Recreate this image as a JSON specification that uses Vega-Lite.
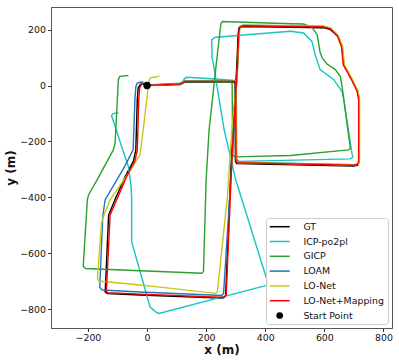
{
  "$schema": "https://vega.github.io/schema/vega-lite/v6.json",
  "width": 341,
  "height": 321,
  "autosize": {"type": "none"},
  "padding": {"left": 51, "top": 7, "right": 7, "bottom": 35},
  "config": {
    "view": {"stroke": "#555", "strokeWidth": 1},
    "font": "DejaVu Sans",
    "axis": {"grid": false, "domainColor": "#555", "tickColor": "#333", "tickSize": 3.5, "labelFontSize": 9.4, "labelColor": "#111", "titleFontSize": 12, "titleFontWeight": "bold", "titleColor": "#111", "labelFont": "DejaVu Sans", "titleFont": "DejaVu Sans"}
  },
  "datasets": {
    "traj": [
      {"s":"GT","x":0,"y":0},{"s":"GT","x":112,"y":4},{"s":"GT","x":129,"y":13},{"s":"GT","x":295,"y":13},{"s":"GT","x":298,"y":6},{"s":"GT","x":299,"y":-270},{"s":"GT","x":303,"y":-279},{"s":"GT","x":700,"y":-288},{"s":"GT","x":713,"y":-285},{"s":"GT","x":718,"y":-272},{"s":"GT","x":718,"y":-51},{"s":"GT","x":713,"y":-21},{"s":"GT","x":694,"y":21},{"s":"GT","x":666,"y":74},{"s":"GT","x":660,"y":140},{"s":"GT","x":646,"y":176},{"s":"GT","x":621,"y":200},{"s":"GT","x":597,"y":207},{"s":"GT","x":325,"y":211},{"s":"GT","x":311,"y":207},{"s":"GT","x":308,"y":182},{"s":"GT","x":304,"y":74},{"s":"GT","x":293,"y":-123},{"s":"GT","x":285,"y":-266},{"s":"GT","x":266,"y":-752},{"s":"GT","x":259,"y":-759},{"s":"GT","x":247,"y":-760},{"s":"GT","x":-24,"y":-749},{"s":"GT","x":-134,"y":-744},{"s":"GT","x":-142,"y":-738},{"s":"GT","x":-141,"y":-725},{"s":"GT","x":-130,"y":-463},{"s":"GT","x":-109,"y":-409},{"s":"GT","x":-74,"y":-325},{"s":"GT","x":-46,"y":-270},{"s":"GT","x":-38,"y":-230},{"s":"GT","x":-33,"y":-51},{"s":"GT","x":-30,"y":-8},{"s":"GT","x":-22,"y":5},{"s":"GT","x":0,"y":6},

      {"s":"ICP-po2pl","x":0,"y":0},{"s":"ICP-po2pl","x":119,"y":9},{"s":"ICP-po2pl","x":125,"y":22},{"s":"ICP-po2pl","x":132,"y":30},{"s":"ICP-po2pl","x":180,"y":27},{"s":"ICP-po2pl","x":295,"y":18},{"s":"ICP-po2pl","x":302,"y":10},{"s":"ICP-po2pl","x":302,"y":-262},{"s":"ICP-po2pl","x":310,"y":-271},{"s":"ICP-po2pl","x":688,"y":-262},{"s":"ICP-po2pl","x":697,"y":-255},{"s":"ICP-po2pl","x":694,"y":-246},{"s":"ICP-po2pl","x":666,"y":-51},{"s":"ICP-po2pl","x":660,"y":-22},{"s":"ICP-po2pl","x":632,"y":21},{"s":"ICP-po2pl","x":586,"y":57},{"s":"ICP-po2pl","x":569,"y":110},{"s":"ICP-po2pl","x":558,"y":158},{"s":"ICP-po2pl","x":530,"y":188},{"s":"ICP-po2pl","x":485,"y":194},{"s":"ICP-po2pl","x":231,"y":173},{"s":"ICP-po2pl","x":219,"y":164},{"s":"ICP-po2pl","x":220,"y":100},{"s":"ICP-po2pl","x":224,"y":80},{"s":"ICP-po2pl","x":261,"y":-158},{"s":"ICP-po2pl","x":300,"y":-337},{"s":"ICP-po2pl","x":409,"y":-705},{"s":"ICP-po2pl","x":407,"y":-713},{"s":"ICP-po2pl","x":395,"y":-717},{"s":"ICP-po2pl","x":40,"y":-815},{"s":"ICP-po2pl","x":30,"y":-810},{"s":"ICP-po2pl","x":10,"y":-791},{"s":"ICP-po2pl","x":-52,"y":-558},{"s":"ICP-po2pl","x":-52,"y":-409},{"s":"ICP-po2pl","x":-54,"y":-361},{"s":"ICP-po2pl","x":-63,"y":-290},{"s":"ICP-po2pl","x":-86,"y":-218},{"s":"ICP-po2pl","x":-108,"y":-146},{"s":"ICP-po2pl","x":-120,"y":-108},{"s":"ICP-po2pl","x":-115,"y":-100},{"s":"ICP-po2pl","x":-97,"y":-97},

      {"s":"GICP","x":0,"y":0},{"s":"GICP","x":112,"y":6},{"s":"GICP","x":129,"y":15},{"s":"GICP","x":284,"y":13},{"s":"GICP","x":288,"y":6},{"s":"GICP","x":290,"y":-248},{"s":"GICP","x":296,"y":-255},{"s":"GICP","x":485,"y":-250},{"s":"GICP","x":682,"y":-230},{"s":"GICP","x":688,"y":-224},{"s":"GICP","x":666,"y":-51},{"s":"GICP","x":660,"y":-3},{"s":"GICP","x":654,"y":33},{"s":"GICP","x":637,"y":57},{"s":"GICP","x":609,"y":77},{"s":"GICP","x":593,"y":98},{"s":"GICP","x":585,"y":122},{"s":"GICP","x":576,"y":182},{"s":"GICP","x":558,"y":208},{"s":"GICP","x":530,"y":220},{"s":"GICP","x":485,"y":221},{"s":"GICP","x":281,"y":228},{"s":"GICP","x":255,"y":229},{"s":"GICP","x":250,"y":222},{"s":"GICP","x":234,"y":74},{"s":"GICP","x":210,"y":-158},{"s":"GICP","x":200,"y":-337},{"s":"GICP","x":191,"y":-665},{"s":"GICP","x":185,"y":-671},{"s":"GICP","x":-208,"y":-654},{"s":"GICP","x":-216,"y":-646},{"s":"GICP","x":-202,"y":-409},{"s":"GICP","x":-198,"y":-391},{"s":"GICP","x":-169,"y":-337},{"s":"GICP","x":-114,"y":-230},{"s":"GICP","x":-108,"y":-206},{"s":"GICP","x":-97,"y":21},{"s":"GICP","x":-92,"y":33},{"s":"GICP","x":-63,"y":36},

      {"s":"LOAM","x":0,"y":2},{"s":"LOAM","x":112,"y":8},{"s":"LOAM","x":129,"y":17},{"s":"LOAM","x":299,"y":17},{"s":"LOAM","x":302,"y":10},{"s":"LOAM","x":303,"y":-266},{"s":"LOAM","x":307,"y":-274},{"s":"LOAM","x":701,"y":-283},{"s":"LOAM","x":714,"y":-280},{"s":"LOAM","x":718,"y":-268},{"s":"LOAM","x":718,"y":-51},{"s":"LOAM","x":713,"y":-21},{"s":"LOAM","x":694,"y":21},{"s":"LOAM","x":666,"y":74},{"s":"LOAM","x":660,"y":140},{"s":"LOAM","x":646,"y":179},{"s":"LOAM","x":621,"y":205},{"s":"LOAM","x":597,"y":212},{"s":"LOAM","x":325,"y":216},{"s":"LOAM","x":314,"y":211},{"s":"LOAM","x":311,"y":182},{"s":"LOAM","x":307,"y":74},{"s":"LOAM","x":296,"y":-123},{"s":"LOAM","x":287,"y":-276},{"s":"LOAM","x":259,"y":-744},{"s":"LOAM","x":252,"y":-751},{"s":"LOAM","x":-24,"y":-738},{"s":"LOAM","x":-152,"y":-731},{"s":"LOAM","x":-160,"y":-722},{"s":"LOAM","x":-150,"y":-469},{"s":"LOAM","x":-142,"y":-409},{"s":"LOAM","x":-75,"y":-288},{"s":"LOAM","x":-47,"y":-230},{"s":"LOAM","x":-41,"y":-51},{"s":"LOAM","x":-38,"y":-5},{"s":"LOAM","x":-33,"y":9},{"s":"LOAM","x":-24,"y":12},{"s":"LOAM","x":-12,"y":12},

      {"s":"LO-Net","x":0,"y":0},{"s":"LO-Net","x":112,"y":7},{"s":"LO-Net","x":129,"y":16},{"s":"LO-Net","x":298,"y":16},{"s":"LO-Net","x":301,"y":9},{"s":"LO-Net","x":302,"y":-267},{"s":"LO-Net","x":306,"y":-275},{"s":"LO-Net","x":702,"y":-284},{"s":"LO-Net","x":714,"y":-281},{"s":"LO-Net","x":719,"y":-269},{"s":"LO-Net","x":719,"y":-51},{"s":"LO-Net","x":714,"y":-21},{"s":"LO-Net","x":696,"y":21},{"s":"LO-Net","x":668,"y":74},{"s":"LO-Net","x":662,"y":140},{"s":"LO-Net","x":647,"y":179},{"s":"LO-Net","x":622,"y":205},{"s":"LO-Net","x":598,"y":212},{"s":"LO-Net","x":326,"y":216},{"s":"LO-Net","x":315,"y":211},{"s":"LO-Net","x":312,"y":182},{"s":"LO-Net","x":305,"y":30},{"s":"LO-Net","x":287,"y":-158},{"s":"LO-Net","x":272,"y":-397},{"s":"LO-Net","x":238,"y":-738},{"s":"LO-Net","x":232,"y":-743},{"s":"LO-Net","x":44,"y":-721},{"s":"LO-Net","x":-24,"y":-713},{"s":"LO-Net","x":-163,"y":-699},{"s":"LO-Net","x":-168,"y":-690},{"s":"LO-Net","x":-154,"y":-491},{"s":"LO-Net","x":-146,"y":-463},{"s":"LO-Net","x":-125,"y":-409},{"s":"LO-Net","x":-63,"y":-313},{"s":"LO-Net","x":-24,"y":-248},{"s":"LO-Net","x":-13,"y":-158},{"s":"LO-Net","x":3,"y":-15},{"s":"LO-Net","x":8,"y":22},{"s":"LO-Net","x":13,"y":28},{"s":"LO-Net","x":42,"y":33},

      {"s":"LO-Net+Mapping","x":0,"y":0},{"s":"LO-Net+Mapping","x":112,"y":6},{"s":"LO-Net+Mapping","x":129,"y":15},{"s":"LO-Net+Mapping","x":297,"y":15},{"s":"LO-Net+Mapping","x":300,"y":8},{"s":"LO-Net+Mapping","x":301,"y":-268},{"s":"LO-Net+Mapping","x":305,"y":-276},{"s":"LO-Net+Mapping","x":700,"y":-285},{"s":"LO-Net+Mapping","x":712,"y":-282},{"s":"LO-Net+Mapping","x":716,"y":-270},{"s":"LO-Net+Mapping","x":716,"y":-51},{"s":"LO-Net+Mapping","x":711,"y":-21},{"s":"LO-Net+Mapping","x":692,"y":21},{"s":"LO-Net+Mapping","x":664,"y":74},{"s":"LO-Net+Mapping","x":658,"y":140},{"s":"LO-Net+Mapping","x":644,"y":178},{"s":"LO-Net+Mapping","x":620,"y":203},{"s":"LO-Net+Mapping","x":597,"y":210},{"s":"LO-Net+Mapping","x":325,"y":214},{"s":"LO-Net+Mapping","x":313,"y":209},{"s":"LO-Net+Mapping","x":310,"y":182},{"s":"LO-Net+Mapping","x":306,"y":74},{"s":"LO-Net+Mapping","x":295,"y":-123},{"s":"LO-Net+Mapping","x":287,"y":-266},{"s":"LO-Net+Mapping","x":268,"y":-749},{"s":"LO-Net+Mapping","x":261,"y":-756},{"s":"LO-Net+Mapping","x":247,"y":-757},{"s":"LO-Net+Mapping","x":-24,"y":-746},{"s":"LO-Net+Mapping","x":-132,"y":-741},{"s":"LO-Net+Mapping","x":-139,"y":-735},{"s":"LO-Net+Mapping","x":-137,"y":-725},{"s":"LO-Net+Mapping","x":-125,"y":-463},{"s":"LO-Net+Mapping","x":-103,"y":-409},{"s":"LO-Net+Mapping","x":-69,"y":-325},{"s":"LO-Net+Mapping","x":-41,"y":-270},{"s":"LO-Net+Mapping","x":-33,"y":-230},{"s":"LO-Net+Mapping","x":-28,"y":-51},{"s":"LO-Net+Mapping","x":-25,"y":-8},{"s":"LO-Net+Mapping","x":-18,"y":6},{"s":"LO-Net+Mapping","x":0,"y":7}
    ],
    "start": [{"s": "Start Point", "x": 0, "y": 0}]
  },
  "encoding": {
    "x": {"field": "x", "type": "quantitative", "scale": {"domain": [-325, 829], "nice": false, "zero": false}, "axis": {"values": [-200, 0, 200, 400, 600, 800], "title": "x (m)", "labelPadding": 2, "titlePadding": 3}},
    "y": {"field": "y", "type": "quantitative", "scale": {"domain": [-867, 281], "nice": false, "zero": false}, "axis": {"values": [-800, -600, -400, -200, 0, 200], "title": "y (m)", "labelPadding": 2, "titlePadding": 2}},
    "color": {
      "field": "s", "type": "nominal",
      "scale": {"domain": ["GT", "ICP-po2pl", "GICP", "LOAM", "LO-Net", "LO-Net+Mapping", "Start Point"], "range": ["#000000", "#17c4c4", "#2ca02c", "#1f77b4", "#c8c814", "#ff0000", "#000000"]},
      "legend": {
        "title": null, "orient": "none", "legendX": 215, "legendY": 211,
        "fillColor": "rgba(255,255,255,0.8)", "strokeColor": "#cccccc", "cornerRadius": 3, "padding": 4,
        "labelFont": "DejaVu Sans", "labelFontSize": 9.4, "labelColor": "#111", "labelOffset": 19,
        "symbolType": "stroke", "symbolSize": 400, "symbolStrokeWidth": 1.5, "symbolOffset": 5, "rowPadding": 3.8,
        "encode": {
          "symbols": {"update": {
            "shape": {"signal": "datum.value === 'Start Point' ? 'circle' : 'stroke'"},
            "size": {"signal": "datum.value === 'Start Point' ? 45 : 400"},
            "fill": {"signal": "datum.value === 'Start Point' ? '#000000' : 'transparent'"},
            "strokeWidth": {"signal": "datum.value === 'Start Point' ? 0 : 1.5"}
          }}
        }
      }
    }
  },
  "layer": [
    {"data": {"name": "traj"}, "mark": {"type": "line", "strokeWidth": 1.4}, "encoding": {"order": {"value": null}}},
    {"data": {"name": "start"}, "mark": {"type": "circle", "size": 55, "opacity": 1}}
  ]
}
